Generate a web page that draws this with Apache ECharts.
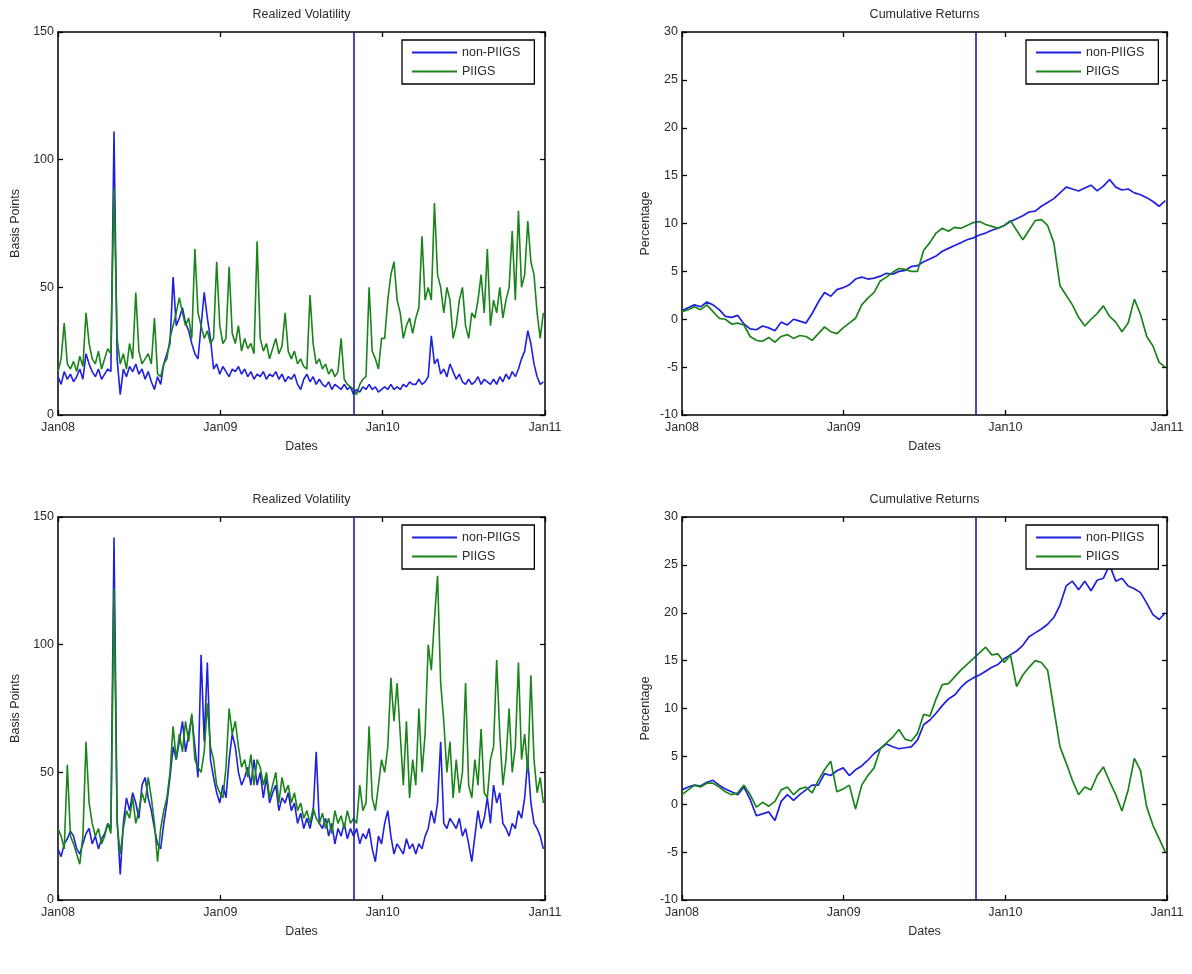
<!DOCTYPE html>
<html><head><meta charset="utf-8">
<script src="https://cdn.jsdelivr.net/npm/echarts@6/dist/echarts.min.js"></script>
<style>html,body{margin:0;padding:0;background:#fff}#c{width:1192px;height:974px}</style>
</head><body><div id="c"></div>
<script>
// ---------- data ----------
const xTickLabels = ['Jan08', 'Jan09', 'Jan10', 'Jan11'];
const seriesNames = ['non-PIIGS', 'PIIGS'];
const eventYear = 1.825;            // vertical marker (years after Jan08)
const weekStep = 7 / 365.25;        // weekly samples (volatility)
const biweekStep = 14 / 365.25;     // two-weekly samples (cumulative returns)

const rvTopNonPIIGS = [15,12,17,14,16, 13,15,18,14,24, 20,17,15,18,14, 16,18,17,111,22,
  8,18,15,19,17, 20,16,18,14,17, 13,10,15,12,20, 24,28,54,35,38, 42,36,33,28,24,
  22,35,48,38,30, 18,20,16,19,17, 15,18,17,19,16, 18,15,17,14,16, 15,17,14,16,15,
  17,14,16,13,15, 14,16,12,10,14, 16,13,15,12,14, 12,11,13,10,12, 11,10,12,10,11,
  8,10,9,11,10, 12,10,11,9,10, 11,10,12,10,11, 10,12,11,13,12, 12,14,12,13,15,
  31,20,22,16,18, 15,20,17,14,16, 13,12,14,12,13, 15,12,14,13,12, 14,12,15,13,16,
  14,17,15,18,22, 25,33,28,20,15, 12,13];
const rvTopPIIGS = [17,22,36,20,18, 21,17,23,19,40, 28,22,20,25,18, 22,26,24,89,30,
  20,24,18,28,22, 48,25,20,22,24, 20,38,16,15,20, 22,30,35,40,46, 40,35,38,30,65,
  40,35,30,33,28, 30,60,35,28,30, 58,32,28,35,25, 30,26,28,24,68, 30,25,28,22,26,
  30,24,27,40,25, 22,25,20,22,19, 18,47,28,20,22, 18,20,16,18,15, 17,30,14,12,11,
  10,8,12,14,15, 50,25,22,18,30, 30,45,55,60,45, 40,30,35,38,32, 38,42,70,45,50,
  45,83,55,50,40, 50,45,30,35,45, 50,35,30,40,38, 45,55,40,65,35, 45,40,50,38,45,
  50,72,45,80,50, 55,76,60,55,40, 30,40];
const rvBotNonPIIGS = [20,17,22,24,27, 25,20,18,22,26, 28,22,25,20,24, 26,30,28,142,32,
  10,30,40,35,42, 38,32,45,48,40, 35,28,22,20,30, 38,48,60,55,62, 70,58,65,72,60,
  48,96,62,93,55, 48,42,38,45,40, 55,65,60,50,45, 48,52,45,55,45, 50,40,48,38,42,
  45,35,40,38,42, 35,38,30,34,28, 32,28,34,58,30, 28,32,25,30,22, 28,25,30,24,28,
  25,28,22,26,24, 28,20,15,25,22, 30,35,25,18,22, 20,18,24,20,22, 18,22,20,25,28,
  35,30,38,62,30, 28,32,30,28,32, 25,28,22,15,25, 35,28,32,40,30, 45,38,42,30,28,
  25,30,28,35,32, 40,55,38,30,28, 25,20];
const rvBotPIIGS = [28,25,20,53,25, 22,18,14,25,62, 38,30,25,28,22, 25,30,26,122,30,
  18,28,35,32,40, 30,35,42,38,48, 40,30,15,28,35, 40,50,68,55,65, 58,70,62,73,55,
  52,50,58,77,60, 55,45,42,40,52, 75,65,70,60,52, 55,48,57,45,55, 52,45,50,40,45,
  50,38,48,42,45, 38,42,35,38,32, 35,30,36,32,30, 34,28,32,26,35, 30,33,28,35,30,
  32,30,45,35,38, 68,40,35,45,55, 50,60,87,70,85, 65,45,70,40,55, 45,75,50,65,100,
  90,110,127,85,70, 50,62,40,55,42, 50,85,45,40,55, 45,67,42,40,55, 60,94,65,45,55,
  75,50,60,93,55, 65,50,88,55,42, 48,38];

const crTopNonPIIGS = [0.9,1.2,1.5,1.3,1.8,1.5,1.0,0.3,0.2,0.4, -0.5,-1.0,-1.1,-0.7,-0.9,-1.2,-0.3,-0.6,0.0,-0.2,
  -0.4,0.6,1.8,2.8,2.4,3.1,3.3,3.6,4.2,4.4, 4.2,4.3,4.5,4.8,4.7,5.0,5.1,5.5,5.6,6.0,
  6.3,6.6,7.1,7.4,7.7,8.0,8.3,8.5,8.8,9.0, 9.3,9.5,9.8,10.2,10.5,10.8,11.2,11.3,11.8,12.2,
  12.6,13.2,13.8,13.6,13.4,13.7,14.0,13.4,13.9,14.6, 13.8,13.5,13.6,13.2,13.0,12.7,12.3,11.8,12.4];
const crTopPIIGS = [0.8,1.0,1.3,1.0,1.5,0.8,0.1,0.0,-0.5,-0.4, -0.6,-1.8,-2.2,-2.3,-1.9,-2.4,-1.8,-1.6,-2.0,-1.7,
  -1.8,-2.2,-1.5,-0.8,-1.3,-1.5,-0.9,-0.4,0.1,1.5, 2.2,2.8,4.0,4.4,4.9,5.3,5.2,5.0,5.0,7.2,
  8.0,9.0,9.5,9.2,9.6,9.5,9.8,10.1,10.2,9.9, 9.7,9.5,9.8,10.3,9.3,8.3,9.3,10.3,10.4,9.8,
  8.0,3.5,2.5,1.5,0.2,-0.7,0.0,0.6,1.4,0.3, -0.3,-1.3,-0.4,2.1,0.5,-1.8,-2.8,-4.5,-5.0];
const crBotNonPIIGS = [1.5,1.8,2.0,1.9,2.3,2.5,2.0,1.6,1.3,1.0, 1.8,0.5,-1.2,-1.0,-0.8,-1.7,0.3,1.0,0.4,1.0,
  1.5,2.0,2.0,3.2,3.0,3.5,3.8,3.0,3.6,4.0, 4.6,5.3,5.8,6.3,6.0,5.8,5.9,6.0,6.7,8.3,
  8.8,9.5,10.3,11.0,11.4,12.2,12.8,13.2,13.5,13.9, 14.3,14.6,15.2,15.6,16.0,16.6,17.5,17.9,18.3,18.8,
  19.5,20.8,22.8,23.3,22.4,23.3,22.3,23.4,23.6,25.0, 23.3,23.6,22.8,22.5,22.1,21.0,19.8,19.3,20.0];
const crBotPIIGS = [1.0,1.5,2.0,1.8,2.2,2.2,1.8,1.3,1.0,1.2, 2.0,1.0,-0.3,0.2,-0.2,0.3,1.5,1.8,1.0,1.6,
  1.8,1.2,2.5,3.6,4.5,1.3,1.6,2.0,-0.5,2.0, 3.0,3.8,5.8,6.4,7.0,7.8,6.8,6.6,7.4,9.4,
  9.2,11.0,12.5,12.6,13.3,14.0,14.6,15.2,15.8,16.4, 15.6,15.7,14.8,15.6,12.3,13.5,14.3,15.0,14.8,14.0,
  10.0,6.0,4.3,2.5,1.0,1.8,1.5,3.0,3.9,2.4, 1.0,-0.7,1.5,4.8,3.5,-0.3,-2.2,-3.6,-5.0];

const titles = ['Realized Volatility', 'Cumulative Returns'];
const yNames = ['Basis Points', 'Percentage'];
const xName = 'Dates';

// ---------- layout / style ----------
const FONT = '"Liberation Sans", Arial, sans-serif';
const TXT = '#2b2b2b';
const BLUE = '#1f1fe0';
const GREEN = '#1a841a';
const MARK = '#1c1ca8';

const panels = [
  {left: 58,  top: 32,  width: 487, height: 383, kind: 0, a: rvTopNonPIIGS, b: rvTopPIIGS, step: weekStep},
  {left: 682, top: 32,  width: 485, height: 383, kind: 1, a: crTopNonPIIGS, b: crTopPIIGS, step: biweekStep},
  {left: 58,  top: 517, width: 487, height: 383, kind: 0, a: rvBotNonPIIGS, b: rvBotPIIGS, step: weekStep},
  {left: 682, top: 517, width: 485, height: 383, kind: 1, a: crBotNonPIIGS, b: crBotPIIGS, step: biweekStep}
];
const yRange = [{min: 0, max: 150, interval: 50}, {min: -10, max: 30, interval: 5}];

const grid = [], xAxis = [], yAxis = [], series = [], legend = [], graphic = [];
const axisLine = {show: true, onZero: false, lineStyle: {color: '#000', width: 1.5}};
const axisTick = {show: true, inside: true, length: 5, lineStyle: {color: '#000', width: 1.3}};

panels.forEach((p, g) => {
  grid.push({left: p.left, top: p.top, width: p.width, height: p.height, containLabel: false});
  xAxis.push({type: 'value', gridIndex: g, position: 'bottom', min: 0, max: 3, interval: 1,
    axisLine, axisTick, splitLine: {show: false},
    axisLabel: {margin: 6, color: TXT, fontSize: 12.5, fontFamily: FONT,
      formatter: v => xTickLabels[Math.round(v)]},
    name: xName, nameLocation: 'middle', nameGap: 25,
    nameTextStyle: {color: TXT, fontSize: 12.5, fontFamily: FONT}});
  xAxis.push({type: 'value', gridIndex: g, position: 'top', min: 0, max: 3, interval: 1,
    axisLine, axisTick, splitLine: {show: false}, axisLabel: {show: false}});
  const yr = yRange[p.kind];
  yAxis.push({type: 'value', gridIndex: g, position: 'left', min: yr.min, max: yr.max, interval: yr.interval,
    axisLine, axisTick, splitLine: {show: false},
    axisLabel: {margin: 4, color: TXT, fontSize: 12.5, fontFamily: FONT},
    name: yNames[p.kind], nameLocation: 'middle', nameGap: p.kind === 0 ? 36 : 30, nameRotate: 90,
    nameTextStyle: {color: TXT, fontSize: 12.5, fontFamily: FONT}});
  yAxis.push({type: 'value', gridIndex: g, position: 'right', min: yr.min, max: yr.max, interval: yr.interval,
    axisLine, axisTick, splitLine: {show: false}, axisLabel: {show: false}});

  const lw = p.kind === 0 ? 1.6 : 1.7;
  series.push({type: 'line', name: seriesNames[0], xAxisIndex: 2 * g, yAxisIndex: 2 * g,
    data: p.a.map((v, i) => [i * p.step, v]), symbol: 'none', showSymbol: false,
    lineStyle: {color: BLUE, width: lw}, itemStyle: {color: BLUE}, z: 2,
    markLine: {silent: true, symbol: 'none', label: {show: false},
      lineStyle: {color: MARK, width: 1.6, type: 'solid'}, data: [{xAxis: eventYear}]}});
  series.push({type: 'line', name: seriesNames[1], xAxisIndex: 2 * g, yAxisIndex: 2 * g,
    data: p.b.map((v, i) => [i * p.step, v]), symbol: 'none', showSymbol: false,
    lineStyle: {color: GREEN, width: lw}, itemStyle: {color: GREEN}, z: 3});

  legend.push({left: p.left + 344, top: p.top + 8, orient: 'vertical', data: seriesNames,
    backgroundColor: '#fff', borderColor: '#000', borderWidth: 1.3,
    padding: [6, 14, 6, 10], itemGap: 6, itemWidth: 45, itemHeight: 2, icon: 'rect',
    selectedMode: false, textStyle: {color: TXT, fontSize: 12.5, fontFamily: FONT}});

  graphic.push({type: 'text', x: p.left + p.width / 2, y: p.top - 17,
    style: {text: titles[p.kind], fill: TXT, fontSize: 12.5, fontFamily: FONT,
      align: 'center', verticalAlign: 'middle'}});
});

const chart = echarts.init(document.getElementById('c'), null, {renderer: 'canvas'});
chart.setOption({animation: false, backgroundColor: '#fff', grid, xAxis, yAxis, series, legend, graphic});
</script>
</body></html>
